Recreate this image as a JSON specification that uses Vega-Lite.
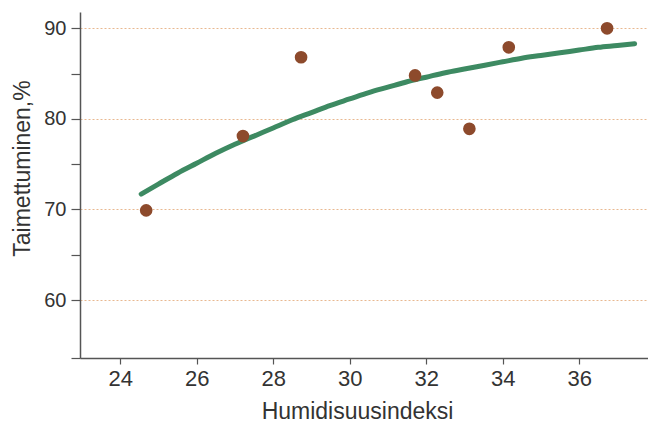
{
  "$schema": "https://vega.github.io/schema/vega-lite/v6.json",
  "width": 568,
  "height": 346,
  "autosize": {"type": "none"},
  "padding": {"left": 80, "top": 12, "right": 0, "bottom": 68},
  "background": "white",
  "config": {
    "view": {"stroke": null},
    "font": "Liberation Sans",
    "axis": {"labelColor": "#333", "titleColor": "#333", "labelFont": "Liberation Sans", "titleFont": "Liberation Sans", "titleFontWeight": "normal", "domainColor": "#555", "tickColor": "#555", "domainWidth": 1.5, "tickWidth": 1.2}
  },
  "datasets": {
    "pts": [
      {"h": 24.68, "t": 69.9},
      {"h": 27.21, "t": 78.1},
      {"h": 28.73, "t": 86.8},
      {"h": 31.71, "t": 84.8},
      {"h": 32.29, "t": 82.9},
      {"h": 33.13, "t": 78.9},
      {"h": 34.16, "t": 87.9},
      {"h": 36.73, "t": 90.0}
    ],
    "fit": [
      {"h": 24.55, "t": 71.7},
      {"h": 25.0, "t": 72.8},
      {"h": 25.5, "t": 74.0},
      {"h": 26.0, "t": 75.1},
      {"h": 26.5, "t": 76.2},
      {"h": 27.0, "t": 77.2},
      {"h": 27.5, "t": 78.1},
      {"h": 28.0, "t": 79.0},
      {"h": 28.5, "t": 79.9},
      {"h": 29.0, "t": 80.7},
      {"h": 29.5, "t": 81.5},
      {"h": 30.0, "t": 82.2},
      {"h": 30.5, "t": 82.9},
      {"h": 31.0, "t": 83.5},
      {"h": 31.5, "t": 84.1},
      {"h": 32.0, "t": 84.6},
      {"h": 32.5, "t": 85.1},
      {"h": 33.0, "t": 85.5},
      {"h": 33.5, "t": 85.9},
      {"h": 34.0, "t": 86.3},
      {"h": 34.5, "t": 86.7},
      {"h": 35.0, "t": 87.0},
      {"h": 35.5, "t": 87.3},
      {"h": 36.0, "t": 87.6},
      {"h": 36.5, "t": 87.9},
      {"h": 37.0, "t": 88.1},
      {"h": 37.45, "t": 88.3}
    ]
  },
  "encoding": {
    "x": {
      "field": "h", "type": "quantitative",
      "scale": {"domain": [22.95, 37.8], "nice": false, "zero": false},
      "axis": {
        "values": [24, 26, 28, 30, 32, 34, 36],
        "title": "Humidisuusindeksi",
        "titleFontSize": 23,
        "labelFontSize": 22,
        "tickSize": 6,
        "labelPadding": 4,
        "grid": false,
        "titleBaseline": "middle",
        "titleX": 277,
        "titleY": 53
      }
    },
    "y": {
      "field": "t", "type": "quantitative",
      "scale": {"domain": [53.6, 91.8], "nice": false, "zero": false},
      "axis": {
        "values": [53.6, 60, 65, 70, 75, 80, 85, 90],
        "labelExpr": "datum.value % 10 === 0 ? datum.label : ''",
        "title": "Taimettuminen,%",
        "titleFontSize": 23,
        "labelFontSize": 20,
        "tickSize": 9,
        "labelPadding": 5,
        "grid": true,
        "gridColor": "#e8b890",
        "gridDash": [2, 2],
        "gridWidth": 1,
        "gridOpacity": {"condition": {"test": "datum.value % 10 === 0", "value": 1}, "value": 0},
        "titleBaseline": "middle",
        "titleAngle": -90,
        "titleAlign": "center",
        "titleX": -58,
        "titleY": 156
      }
    }
  },
  "layer": [
    {
      "mark": {"type": "rule", "color": "#555", "strokeWidth": 1.5},
      "encoding": {"y": {"datum": 91.8}, "x": null}
    },
    {
      "data": {"name": "fit"},
      "mark": {"type": "line", "color": "#3d8a62", "strokeWidth": 5, "interpolate": "monotone", "strokeCap": "round"}
    },
    {
      "data": {"name": "pts"},
      "mark": {"type": "circle", "color": "#8d4a2c", "opacity": 1, "size": 160}
    }
  ]
}
